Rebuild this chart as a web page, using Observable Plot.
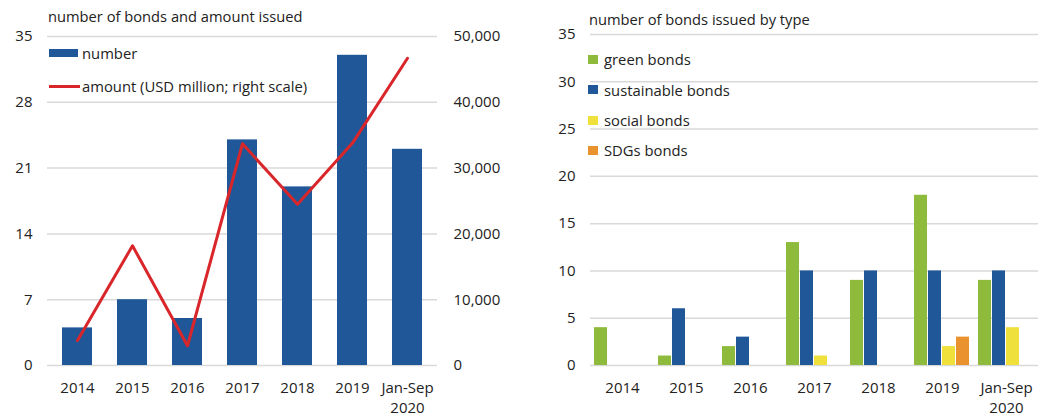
<!DOCTYPE html>
<html><head><meta charset="utf-8">
<script src="https://cdn.jsdelivr.net/npm/d3@7"></script>
<script src="https://cdn.jsdelivr.net/npm/@observablehq/plot@0.6"></script>
<style>
body{margin:0;background:#fff;font-family:"Open Sans",sans-serif;}
#wrap{position:relative;width:1050px;height:418px;overflow:hidden;background:#fff}
.panel{position:absolute;top:0}
.title{position:absolute;font-size:14.7px;line-height:20px;color:#222;white-space:nowrap}
.leg{position:absolute;font-size:14.8px;line-height:20px;color:#222;white-space:nowrap;height:20px}
.sw{position:absolute;}
</style></head><body>
<div id="wrap">
  <div id="left" class="panel" style="left:0"></div>
  <div id="right" class="panel" style="left:540px"></div>
  <div class="title" style="left:48px;top:6px">number of bonds and amount issued</div>
  <div class="title" style="left:589px;top:9px">number of bonds issued by type</div>
  <div id="legL"></div>
  <div id="legR"></div>
</div>
<script>
// ---- data ----
const years = ["2014", "2015", "2016", "2017", "2018", "2019", "Jan-Sep\n2020"];
const numberIssued = [4, 7, 5, 24, 19, 33, 23];
const amountUSDmn = [3800, 18200, 3000, 33700, 24500, 33800, 46700];
const bondTypes = ["green bonds", "sustainable bonds", "social bonds", "SDGs bonds"];
const greenBonds = [4, 1, 2, 13, 9, 18, 9];
const sustainableBonds = [0, 6, 3, 10, 10, 10, 10];
const socialBonds = [0, 0, 0, 1, 0, 2, 4];
const sdgBonds = [0, 0, 0, 0, 0, 3, 0];
const leftTicks = [0, 7, 14, 21, 28, 35];
const amountTicks = [0, 10000, 20000, 30000, 40000, 50000];
const rightTicks = [0, 5, 10, 15, 20, 25, 30, 35];

const BLUE = "#1f5799", RED = "#d9262a";
const typeColors = ["#8fbb3c", "#1f5799", "#f0e03c", "#ea922d"];
const font = '"Open Sans", sans-serif';

// ---- left chart ----
const leftData = years.map((y, i) => ({year: y, n: numberIssued[i], amt: amountUSDmn[i]}));
const ratio = 35 / 50000; // right scale mapped onto left scale
const left = Plot.plot({
  width: 525, height: 418,
  marginLeft: 47, marginRight: 88, marginTop: 36, marginBottom: 53,
  style: {fontFamily: font, fontSize: "15px", color: "#222", background: "transparent"},
  x: {domain: years, paddingInner: 0.45, paddingOuter: 0.225, label: null},
  y: {domain: [0, 35], ticks: leftTicks, label: null, tickSize: 0, tickPadding: 15},
  marks: [
    Plot.ruleY(leftTicks, {stroke: "#d9d9d9", strokeWidth: 1.5}),
    Plot.barY(leftData, {x: "year", y: "n", fill: BLUE}),
    Plot.line(leftData, {x: "year", y: d => d.amt * ratio, stroke: RED, strokeWidth: 3}),
    Plot.text(amountTicks, {y: d => d * ratio, text: d => d3.format(",")(d), frameAnchor: "right",
      dx: 16, textAnchor: "start", fill: "#222", fontSize: 15}),
    Plot.axisX({tickSize: 0, tickPadding: 14, lineHeight: 1.3, label: null, fontSize: 15})
  ]
});
document.getElementById("left").appendChild(left);

// ---- right chart ----
const typeArrays = [greenBonds, sustainableBonds, socialBonds, sdgBonds];
const rightData = [];
years.forEach((y, i) => typeArrays.forEach((arr, j) => {
  if (arr[i] > 0) rightData.push({year: y, type: bondTypes[j], v: arr[i]});
}));
const right = Plot.plot({
  width: 510, height: 418,
  marginLeft: 47, marginRight: 9, marginTop: 34, marginBottom: 53,
  style: {fontFamily: font, fontSize: "15px", color: "#222", background: "transparent"},
  fx: {domain: years, padding: 0, label: null},
  x: {domain: bondTypes, paddingInner: 0.07, paddingOuter: 0.3, axis: null},
  y: {domain: [0, 35], ticks: rightTicks, label: null, tickSize: 0, tickPadding: 15},
  color: {domain: bondTypes, range: typeColors},
  marks: [
    Plot.ruleY(rightTicks, {stroke: "#d9d9d9", strokeWidth: 1.5}),
    Plot.barY(rightData, {fx: "year", x: "type", y: "v", fill: "type"}),
    Plot.axisFx({anchor: "bottom", tickSize: 0, tickPadding: 14, lineHeight: 1.3, label: null, fontSize: 15})
  ]
});
document.getElementById("right").appendChild(right);

// ---- legends (HTML) ----
const legL = document.getElementById("legL");
legL.innerHTML =
  `<div class="sw" style="left:49px;top:49px;width:29px;height:8px;background:${BLUE}"></div>
   <div class="leg" style="left:82px;top:43px">number</div>
   <div class="sw" style="left:49px;top:85px;width:31px;height:3px;background:${RED}"></div>
   <div class="leg" style="left:82px;top:76px">amount (USD million; right scale)</div>`;
const legR = document.getElementById("legR");
const rowY = [59, 89.5, 120, 150];
legR.innerHTML = bondTypes.map((t, i) =>
  `<div class="sw" style="left:588px;top:${rowY[i] - 4.5}px;width:10px;height:9px;background:${typeColors[i]}"></div>
   <div class="leg" style="left:604px;top:${rowY[i] - 10}px">${t}</div>`).join("");
</script>
</body></html>
